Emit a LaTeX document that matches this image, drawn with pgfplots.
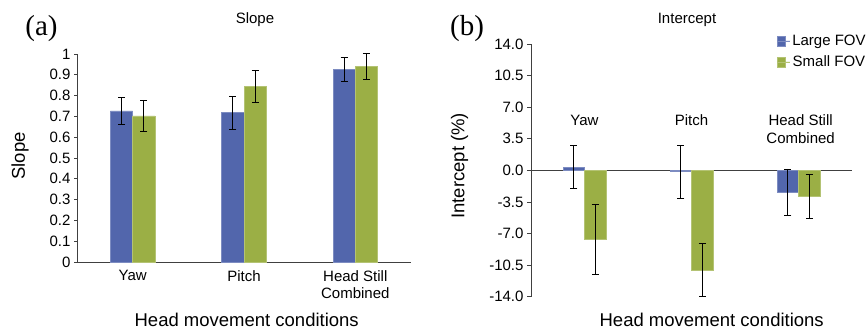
\documentclass[border=0pt]{standalone}
\usepackage{pgfplots}
\pgfplotsset{compat=1.18}
\usepackage{fontspec}
\setmainfont{Liberation Sans}
\newfontfamily\seriffont{Liberation Serif}
\definecolor{barblue}{RGB}{82,102,172}
\definecolor{bargreen}{RGB}{155,175,69}
\definecolor{axgray}{RGB}{64,64,64}
\newcommand\fa{\fontsize{15bp}{17.5bp}\selectfont}
\newcommand\fb{\fontsize{18.5bp}{22bp}\selectfont}
\pgfplotsset{
  sqlegend/.style={legend image code/.code={\fill[##1] (0bp,-5bp) rectangle (8bp,5bp); \path (0bp,0bp) -- (13bp,0bp);}},
  myerr/.style={error bars/.cd, y dir=both, y explicit,
    error bar style={black, line width=0.9bp},
    error mark options={rotate=90, black, mark size=3.5bp, line width=0.9bp},
    /pgfplots/.cd},
}
\begin{document}
\begin{tikzpicture}
\useasboundingbox (0,0) rectangle (867bp,-331bp);
% ---------- (a) Slope ----------
\begin{axis}[
  at={(77bp,-262bp)}, anchor=south west,
  scale only axis, width=334bp, height=208bp,
  xmin=-0.5, xmax=2.5, ymin=0, ymax=1,
  axis lines*=left,
  axis line style={axgray, line width=0.8bp},
  xtick={0,1,2},
  xticklabels={Yaw,Pitch,{Head Still\\Combined}},
  xticklabel style={align=center, font=\fa, yshift=-2bp},
  xtick style={draw=none},
  ytick={0,0.1,0.2,0.3,0.4,0.5,0.6,0.7,0.8,0.9,1},
  yticklabels={0,0.1,0.2,0.3,0.4,0.5,0.6,0.7,0.8,0.9,1},
  yticklabel style={font=\fa},
  tick align=outside, major tick length=3bp,
  ytick style={axgray, line width=0.8bp},
  ybar, bar width=0.2,
  clip=false,
]
\addplot[ybar, bar shift=-0.1, fill=barblue, draw=barblue!75!white, line width=0.5bp, myerr]
  table[x=x, y=y, y error=e] {
x y e
0 0.727 0.064
1 0.718 0.080
2 0.925 0.058
};
\addplot[ybar, bar shift=0.1, fill=bargreen, draw=bargreen!75!white, line width=0.5bp, myerr]
  table[x=x, y=y, y error=e] {
x y e
0 0.702 0.076
1 0.844 0.077
2 0.940 0.062
};
\end{axis}
% ---------- (b) Intercept ----------
\begin{axis}[
  at={(531bp,-296.7bp)}, anchor=south west,
  scale only axis, width=321bp, height=252.7bp,
  xmin=-0.5, xmax=2.5, ymin=-14, ymax=14,
  axis x line*=middle, axis y line*=left,
  axis line style={axgray, line width=0.8bp},
  xtick=\empty,
  ytick={-14,-10.5,-7,-3.5,0,3.5,7,10.5,14},
  yticklabels={-14.0,-10.5,-7.0,-3.5,0.0,3.5,7.0,10.5,14.0},
  yticklabel style={font=\fa},
  tick align=outside, major tick length=4bp,
  ytick style={axgray, line width=0.8bp},
  ybar, bar width=0.2,
  clip=false,
  legend style={at={(0.765,1.045)}, anchor=north west, draw=none, fill=none,
    font=\fa, row sep=5bp, inner sep=0pt},
]
\addplot[ybar, bar shift=-0.1, fill=barblue, draw=barblue!75!white, line width=0.5bp, sqlegend, myerr]
  table[x=x, y=y, y error=e] {
x y e
0 0.35 2.40
1 -0.15 2.95
2 -2.45 2.60
};
\addlegendentry{Large FOV}
\addplot[ybar, bar shift=0.1, fill=bargreen, draw=bargreen!75!white, line width=0.5bp, sqlegend, myerr]
  table[x=x, y=y, y error=e] {
x y e
0 -7.65 3.85
1 -11.05 2.90
2 -2.90 2.42
};
\addlegendentry{Small FOV}
\node[font=\fa] at (axis cs:0,5.54) {Yaw};
\node[font=\fa] at (axis cs:1,5.54) {Pitch};
\node[font=\fa, align=center] at (axis cs:2.02,4.57) {Head Still\\Combined};
\end{axis}
% ---------- titles and labels ----------
\node[font=\fa] at (255bp,-20bp) {Slope};
\node[font=\fa] at (687bp,-20bp) {Intercept};
\node[font=\fb, anchor=base] at (246.7bp,-326.5bp) {Head movement conditions};
\node[font=\fb, anchor=base] at (711.7bp,-326.5bp) {Head movement conditions};
\node[font=\fb, rotate=90] at (20bp,-156bp) {Slope};
\node[font=\fb, rotate=90] at (459.5bp,-165.8bp) {Intercept (\%)};
\node[font=\seriffont\fontsize{29bp}{32bp}\selectfont] at (41.5bp,-29bp) {(a)};
\node[font=\seriffont\fontsize{29bp}{32bp}\selectfont] at (467bp,-29bp) {(b)};
\end{tikzpicture}
\end{document}
